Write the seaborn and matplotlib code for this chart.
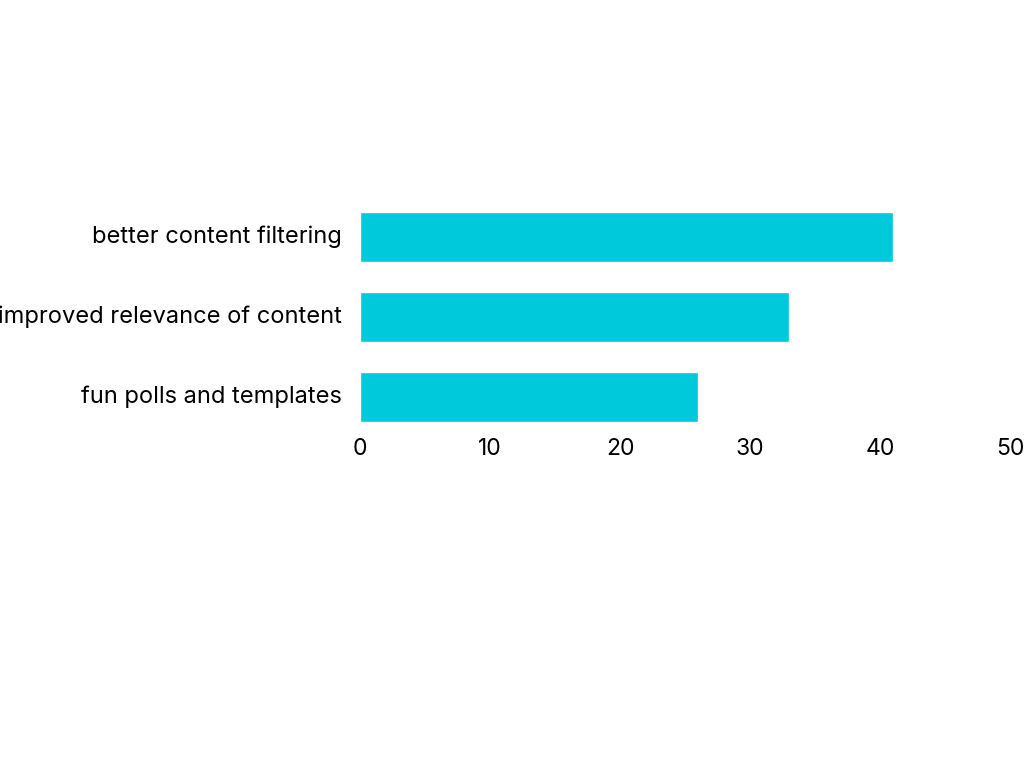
import pandas as pd
import seaborn as sns
import matplotlib.pyplot as plt
import matplotlib.transforms as mtransforms

categories = ["better content filtering", "improved relevance of content", "fun polls and templates"]
values = [41, 33, 26]
x_ticks = [0, 10, 20, 30, 40, 50]

df = pd.DataFrame({"feature": categories, "count": values})

sns.set_theme(style="white")
plt.rcParams["font.family"] = ["Inter", "DejaVu Sans"]

fig = plt.figure(figsize=(10.24, 7.68), dpi=100)
ax = fig.add_axes([0.3516, 0.431, 0.6347, 0.3125])

sns.barplot(data=df, x="count", y="feature", color="#00C9DB", saturation=1,
            width=0.625, ax=ax)

ax.set_xlim(0, 50)
ax.set_ylim(2.5, -0.5)
ax.set_xticks(x_ticks)
ax.set_xlabel("")
ax.set_ylabel("")
ax.tick_params(axis="y", length=0, pad=13, labelsize=17, labelcolor="#000000")
ax.tick_params(axis="x", length=0, pad=1, labelsize=16.5, labelcolor="#000000")

# nudge category labels up a few pixels
shift = mtransforms.ScaledTranslation(0, 0.03, fig.dpi_scale_trans)
for lab in ax.get_yticklabels():
    lab.set_transform(lab.get_transform() + shift)

sns.despine(ax=ax, left=True, bottom=True)
ax.grid(False)

fig.savefig("out.png", dpi=100, facecolor="white")
